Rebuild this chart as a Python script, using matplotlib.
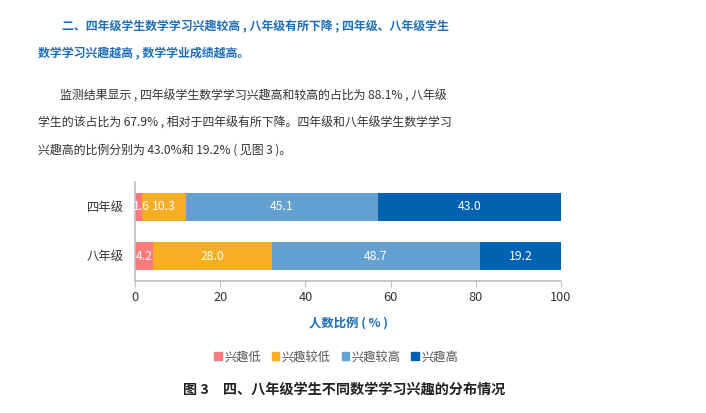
import numpy as np
import matplotlib
matplotlib.use('Agg')
import matplotlib.pyplot as plt
from matplotlib.patches import Patch

plt.rcParams['font.family'] = ['Noto Sans CJK SC', 'DejaVu Sans']

grades = ['八年级', '四年级']
levels = ['兴趣低', '兴趣较低', '兴趣较高', '兴趣高']
low = [4.2, 1.6]
mid_low = [28.0, 10.3]
mid_high = [48.7, 45.1]
high = [19.2, 43.0]
colors = ['#F87A7C', '#F5AE23', '#65A1D0', '#0062B1']

W, H = 706, 413
fig = plt.figure(figsize=(W / 100, H / 100), dpi=100)

def px(x, y):
    return x / W, 1 - y / H

# text above chart
head_c = '#1E6EB6'
body_c = '#333333'
fig.text(*px(62, 27), '二、四年级学生数学学习兴趣较高 , 八年级有所下降 ; 四年级、八年级学生',
         fontsize=8.6, fontweight='bold', color=head_c, va='center')
fig.text(*px(38, 53), '数学学习兴趣越高 , 数学学业成绩越高。',
         fontsize=8.6, fontweight='bold', color=head_c, va='center')
fig.text(*px(60, 96), '监测结果显示 , 四年级学生数学学习兴趣高和较高的占比为 88.1% , 八年级',
         fontsize=8.6, color=body_c, va='center')
fig.text(*px(38, 123), '学生的该占比为 67.9% , 相对于四年级有所下降。四年级和八年级学生数学学习',
         fontsize=8.6, color=body_c, va='center')
fig.text(*px(38, 150), '兴趣高的比例分别为 43.0%和 19.2% ( 见图 3 )。',
         fontsize=8.6, color=body_c, va='center')

# chart
ax = fig.add_axes([135 / W, 1 - 281 / H, (561 - 135) / W, (281 - 182) / H])
y = np.arange(len(grades))
series = [low, mid_low, mid_high, high]
left = np.zeros(len(grades))
for vals, c, name in zip(series, colors, levels):
    bars = ax.barh(y, vals, left=left, height=0.57, color=c, label=name)
    for b, v in zip(bars, vals):
        cx = b.get_x() + b.get_width() / 2
        if b.get_width() < 3:
            cx = b.get_x() + 1.4
        ax.text(cx, b.get_y() + b.get_height() / 2,
                f'{v:.1f}', ha='center', va='center', color='white', fontsize=8.8)
    left = left + np.array(vals)

ax.set_xlim(0, 100)
ax.set_ylim(-0.5, 1.5)
ax.set_yticks(y)
ax.set_yticklabels(grades, fontsize=8.9, color=body_c)
ax.set_xticks(range(0, 101, 20))
ax.tick_params(axis='x', labelsize=9.2, colors=body_c, length=4, color='#BFBFBF')
ax.tick_params(axis='y', length=0, pad=8)
for s in ['top', 'right']:
    ax.spines[s].set_visible(False)
for s in ['left', 'bottom']:
    ax.spines[s].set_color('#BFBFBF')
    ax.spines[s].set_linewidth(1.2)
ax.set_xlabel('人数比例 ( % )', fontsize=8.9, fontweight='bold', color=head_c, labelpad=9)

handles = [Patch(color=c, label=l) for c, l in zip(colors, levels)]
fig.legend(handles=handles, loc='center', bbox_to_anchor=px(336, 357), ncol=4,
           frameon=False, fontsize=8.8, handlelength=0.6, handleheight=0.6,
           handletextpad=0.2, columnspacing=0.9, labelcolor='#555555')

fig.text(*px(183, 390), '图 3　四、八年级学生不同数学学习兴趣的分布情况',
         fontsize=10.2, fontweight='bold', color='#222222', va='center')

fig.savefig('out.png', dpi=100)
